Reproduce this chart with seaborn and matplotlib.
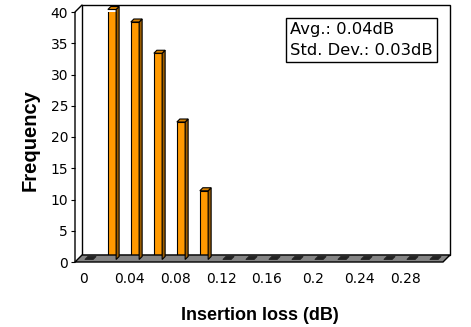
import matplotlib
matplotlib.use("Agg")
import matplotlib.pyplot as plt
import seaborn as sns
import pandas as pd
import numpy as np
from matplotlib.patches import Polygon
from matplotlib.lines import Line2D
from matplotlib.transforms import IdentityTransform, ScaledTranslation

# ---- data ----
bin_starts = ["0", "0.02", "0.04", "0.06", "0.08", "0.1", "0.12", "0.14",
              "0.16", "0.18", "0.2", "0.22", "0.24", "0.26", "0.28", "0.3"]
frequency = [0, 40, 38, 33, 22, 11, 0, 0, 0, 0, 0, 0, 0, 0, 0, 0]
x_tick_labels = ["0", "0.04", "0.08", "0.12", "0.16", "0.2", "0.24", "0.28"]
y_ticks = [0, 5, 10, 15, 20, 25, 30, 35, 40]
stats_text = "Avg.: 0.04dB\nStd. Dev.: 0.03dB"
x_label = "Insertion loss (dB)"
y_label = "Frequency"

df = pd.DataFrame({"bin": bin_starts, "freq": frequency})

sns.set_style("white")
plt.rcParams["font.family"] = ["DejaVu Sans"]
plt.rcParams["text.color"] = "black"
plt.rcParams["xtick.color"] = "black"
plt.rcParams["ytick.color"] = "black"
plt.rcParams["axes.labelcolor"] = "black"

W, H = 471, 327
DPI = 100
fig = plt.figure(figsize=(W / DPI, H / DPI), dpi=DPI)
ax = fig.add_axes([75 / W, 1 - 262 / H, 368 / W, 250 / H])
ax.set_facecolor("none")

DX, DY = 7, 7  # depth offset in pixels

sns.barplot(data=df, x="bin", y="freq", order=bin_starts, color="#FF9900",
            saturation=1, width=0.36, edgecolor="black", linewidth=0.8, ax=ax, zorder=5)
ax.set_xlim(-0.5, len(bin_starts) - 0.5)
ax.set_ylim(0, 40)
ax.set_xlabel("")
ax.set_ylabel("")

for s in ax.spines.values():
    s.set_visible(False)

fig.canvas.draw()
to_disp = ax.transAxes.transform
ident = IdentityTransform()

# back wall
(x0, y0) = to_disp((0, 0))
(x1, y1) = to_disp((1, 1))
wall = Polygon([(x0 + DX, y0 + DY), (x1 + DX, y0 + DY), (x1 + DX, y1 + DY), (x0 + DX, y1 + DY)],
               closed=True, facecolor="white", edgecolor="black", linewidth=1.0,
               transform=ident, zorder=0)
fig.add_artist(wall)
# floor
floor = Polygon([(x0, y0), (x1, y0), (x1 + DX, y0 + DY), (x0 + DX, y0 + DY)], closed=True,
                facecolor="#848484", edgecolor="black", linewidth=1.0, transform=ident, zorder=1)
fig.add_artist(floor)
# left front axis line with diagonal to back wall
fig.add_artist(Line2D([x0, x0, x0 + DX], [y0, y1, y1 + DY], color="black", linewidth=1.0,
                      transform=ident, zorder=2))

# bar depth faces
off = 2.5  # bars sit slightly behind the front plane
bd = 3.0   # bar depth
for p, v in zip(ax.patches, frequency):
    bb = p.get_window_extent()
    px0, px1 = bb.x0 + off, bb.x1 + off
    py0, py1 = y0 + off, bb.y1 + off
    if v == 0:
        top = Polygon([(px0, py0), (px1, py0), (px1 + bd, py0 + bd), (px0 + bd, py0 + bd)],
                      closed=True, facecolor="#222222", edgecolor="#222222", linewidth=0.6,
                      transform=ident, zorder=6)
        fig.add_artist(top)
        p.set_visible(False)
        continue
    p.set_transform(ax.transData + ScaledTranslation(off / DPI, off / DPI, fig.dpi_scale_trans))
    side = Polygon([(px1, py0), (px1 + bd, py0 + bd), (px1 + bd, py1 + bd), (px1, py1)],
                   closed=True, facecolor="#9a5c00", edgecolor="black", linewidth=0.8,
                   transform=ident, zorder=6)
    top = Polygon([(px0, py1), (px1, py1), (px1 + bd, py1 + bd), (px0 + bd, py1 + bd)],
                  closed=True, facecolor="#d98200", edgecolor="black", linewidth=0.8,
                  transform=ident, zorder=6)
    fig.add_artist(side)
    fig.add_artist(top)

# ticks
ax.set_yticks(y_ticks)
ax.set_yticklabels([str(t) for t in y_ticks], fontsize=10)
ax.tick_params(axis="y", length=3, width=0.8, color="black", pad=2, left=True)
ax.set_xticks([i - 0.15 for i in range(0, len(bin_starts), 2)])
ax.set_xticklabels(x_tick_labels, fontsize=10)
ax.tick_params(axis="x", length=0, pad=7)

# axis labels
fig.text(260 / W, 1 - 315 / H, x_label, fontsize=13, fontweight="bold",
         family=["Liberation Sans", "DejaVu Sans"], ha="center", va="center")
fig.text(30 / W, 1 - 140 / H, y_label, fontsize=14.5, fontweight="bold", rotation=90,
         family=["Liberation Sans", "DejaVu Sans"], ha="center", va="center")

# stats box
fig.text(290 / W, 1 - 40 / H, stats_text, fontsize=11.8, va="center", ha="left",
         linespacing=1.55,
         bbox=dict(boxstyle="square,pad=0.25", facecolor="white", edgecolor="black", linewidth=1.0),
         zorder=10)

fig.savefig("out.png", dpi=DPI)
